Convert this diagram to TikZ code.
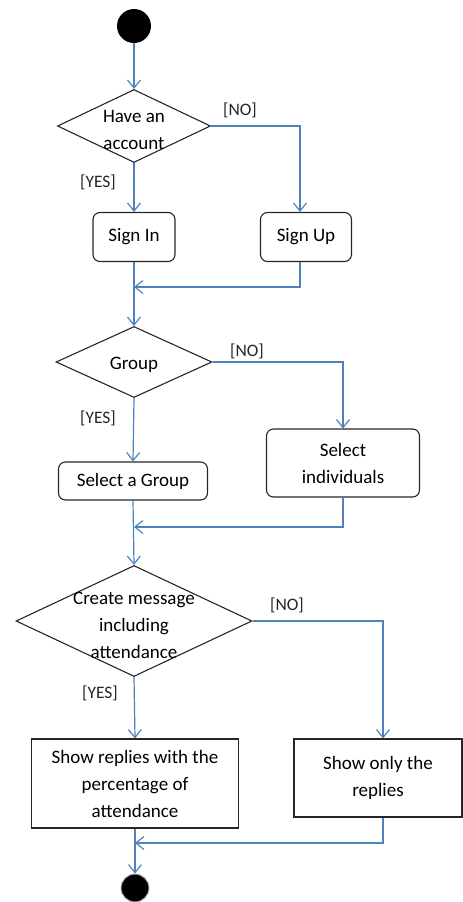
\documentclass[tikz,border=0pt]{standalone}
\usepackage{fontspec}
\setmainfont{Carlito}
\usetikzlibrary{arrows.meta,shapes.geometric}
\definecolor{flowblue}{HTML}{4F81BD}

\begin{document}
\begin{tikzpicture}[x=1pt,y=-1pt,font=\fontsize{19}{27}\selectfont]
\tikzset{
  decision/.style={diamond,draw=black!85,line width=1.1pt,inner sep=0pt},
  activity/.style={rectangle,draw=black!85,line width=1.1pt,align=center,rounded corners=7pt,inner sep=2pt},
  panel/.style={rectangle,draw=black!85,line width=1.1pt,align=center,inner sep=2pt},
  ctrl/.style={circle,fill=black,inner sep=0pt},
  guard/.style={font=\fontsize{17.5}{19}\selectfont,text=black!85,inner sep=0pt},
  flow/.style={-{Straight Barb[length=8pt,width=13pt]},draw=flowblue,line width=1.2pt}
}
\useasboundingbox (0,0) rectangle (463,902);
\node[ctrl,minimum size=34pt] (n_start) at (134,26) {};
\node[decision,minimum width=153pt,minimum height=73pt,label={[yshift=-4pt,align=center]center:Have an\\account}] (n_have) at (134,126) {};
\node[activity,minimum width=82pt,minimum height=49pt] (n_signin) at (134,237) {Sign In};
\node[activity,minimum width=91pt,minimum height=49pt] (n_signup) at (306,237) {Sign Up};
\node[decision,minimum width=156pt,minimum height=71pt,label={[yshift=-3pt]center:Group}] (n_group) at (134,362) {};
\node[activity,minimum width=149pt,minimum height=38pt] (n_selgroup) at (133,481) {Select a Group};
\node[activity,minimum width=153pt,minimum height=68pt] (n_selind) at (343,463) {Select\\individuals};
\node[decision,minimum width=236pt,minimum height=111pt,label={[yshift=-4pt,align=center]center:Create message\\including\\attendance}] (n_create) at (134,621) {};
\node[panel,minimum width=207pt,minimum height=89pt] (n_showall) at (135,783.5) {Show replies with the\\percentage of\\attendance};
\node[panel,minimum width=168pt,minimum height=78pt] (n_showonly) at (378,778) {Show only the\\replies};
\node[ctrl,draw=gray!60,line width=1pt,minimum size=28pt] (n_end) at (135,888) {};
% guards
\node[guard] (n_no1) at (240,110) {[NO]};
\node[guard] (n_yes1) at (98,182) {[YES]};
\node[guard] (n_no2) at (247,351) {[NO]};
\node[guard] (n_yes2) at (98,418) {[YES]};
\node[guard] (n_no3) at (287,605) {[NO]};
\node[guard] (n_yes3) at (100,693) {[YES]};
% merge points
\coordinate (n_m1) at (134,287);
\coordinate (n_m2) at (134,527);
\coordinate (n_m3) at (135,843);
\draw[flow] (n_start) -- (n_have);
\draw[flow] (n_have.south) -- (n_signin.north);
\draw[flow] (n_have.east) -| ([xshift=-6pt]n_signup.north);
\draw[flow] (n_signin.south) -- (n_group.north);
\draw[flow] ([xshift=-6pt]n_signup.south) |- (n_m1);
\draw[flow] (n_group.south) -- (n_selgroup.north);
\draw[flow] (n_group.east) -| (n_selind.north);
\draw[flow] (n_selgroup.south) -- (n_create.north);
\draw[flow] (n_selind.south) |- (n_m2);
\draw[flow] (n_create.south) -- (n_showall.north);
\draw[flow] (n_create.east) -| ([xshift=5pt]n_showonly.north);
\draw[flow] ([xshift=5pt]n_showonly.south) |- (n_m3);
\draw[flow] (n_showall.south) -- (n_end);
\end{tikzpicture}
\end{document}
